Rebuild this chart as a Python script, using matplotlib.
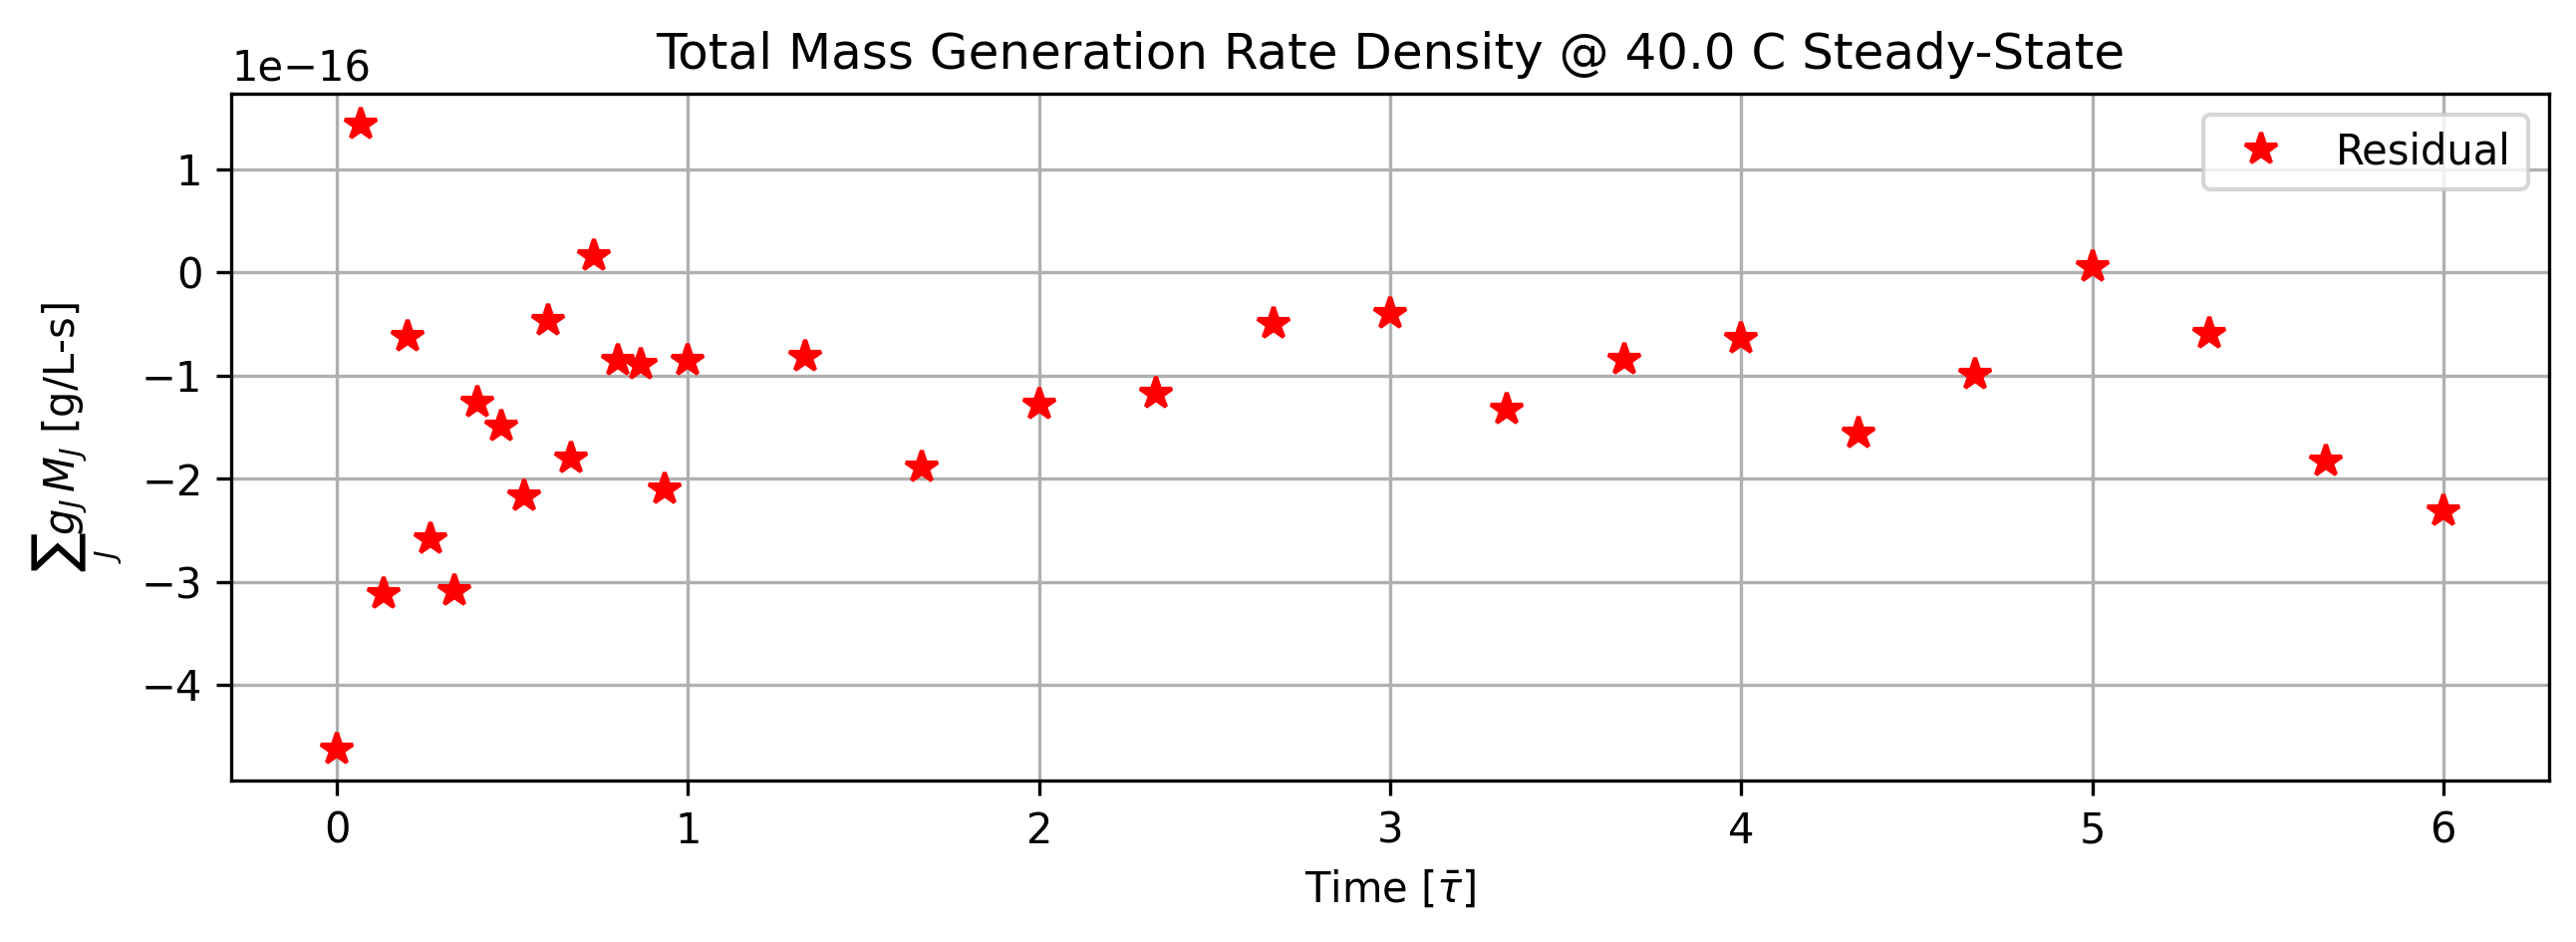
#!/usr/bin/env python3
import matplotlib
matplotlib.use('Agg')
import matplotlib.pyplot as plt

# time points in units of tau-bar
time = [0.0, 0.0667, 0.1333, 0.2, 0.2667, 0.3333, 0.4, 0.4667, 0.5333, 0.6,
        0.6667, 0.7333, 0.8, 0.8667, 0.9333, 1.0, 1.3333, 1.6667, 2.0, 2.3333,
        2.6667, 3.0, 3.3333, 3.6667, 4.0, 4.3333, 4.6667, 5.0, 5.3333, 5.6667, 6.0]

# residual of total mass generation rate density, in units of 1e-16
residual = [-4.63, 1.43, -3.12, -0.63, -2.59, -3.09, -1.26, -1.50, -2.17, -0.47,
            -1.81, 0.16, -0.86, -0.90, -2.11, -0.86, -0.82, -1.89, -1.28, -1.18,
            -0.50, -0.40, -1.33, -0.85, -0.65, -1.56, -0.99, 0.05, -0.60, -1.83, -2.32]
scale = 1e-16


def make_plot():
    fig = plt.figure(figsize=(8.62, 3.15), dpi=300)
    ax = fig.add_subplot(111)
    fig.subplots_adjust(left=0.0899, right=0.989, top=0.9005, bottom=0.171)

    ax.plot(time, [r * scale for r in residual], 'r*', markersize=8,
            label='Residual')
    ax.set_title('Total Mass Generation Rate Density @ 40.0 C Steady-State')
    ax.set_xlabel(r'Time [$\bar{\tau}$]')
    ax.set_ylabel(r'$\sum_J g_J\,M_J$ [g/L-s]')
    ax.legend(loc='upper right')
    ax.grid(True)

    fig.savefig('out.png', dpi=300)


if __name__ == "__main__":
    make_plot()
